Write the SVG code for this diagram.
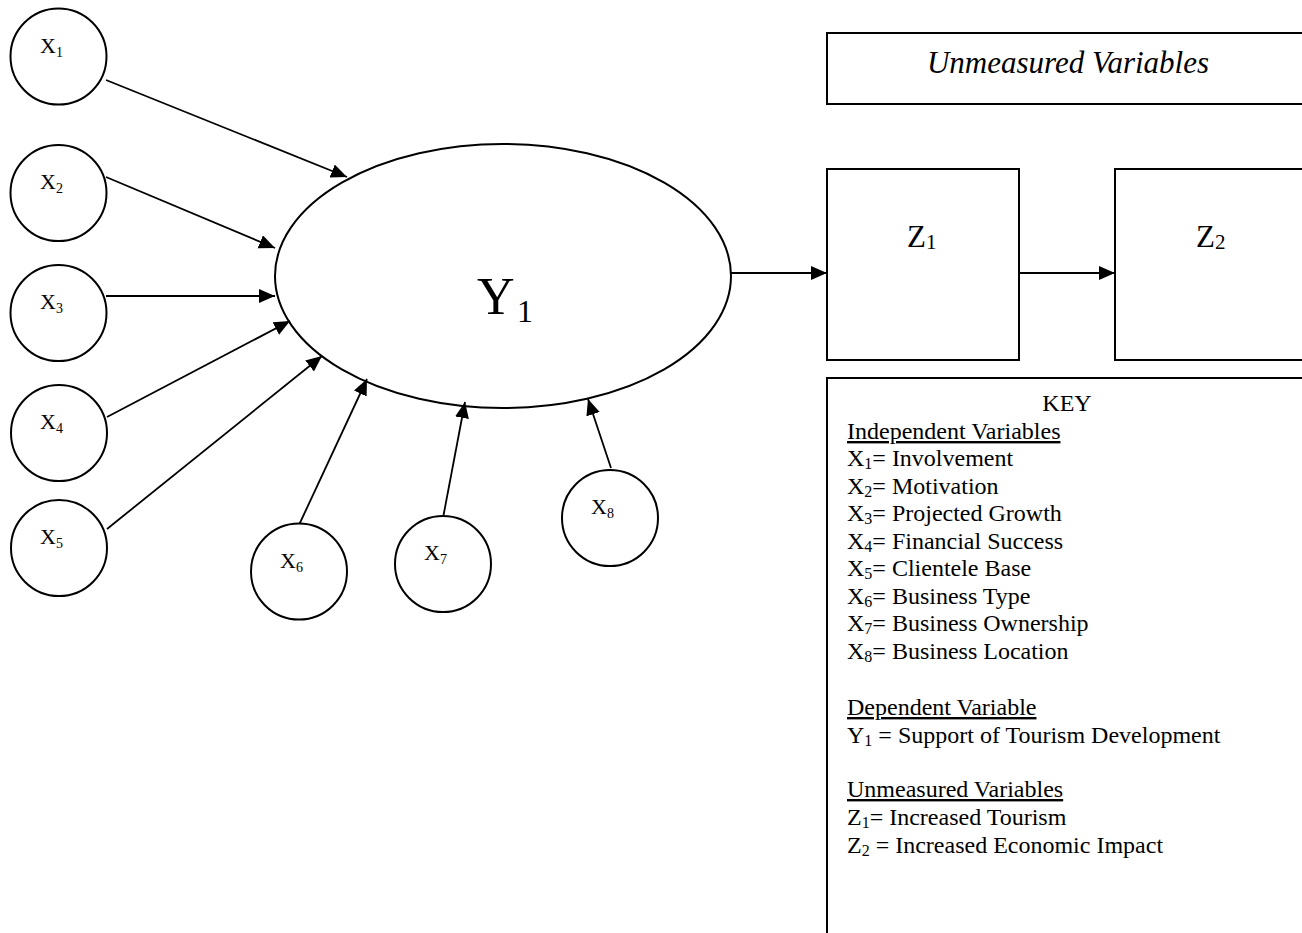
<svg xmlns="http://www.w3.org/2000/svg" width="1302" height="933" viewBox="0 0 1302 933">
<style>
text{font-family:"Liberation Serif","Times New Roman",serif;fill:#000}
.node{fill:#fff;stroke:#000;stroke-width:2}
.lbl{font-size:22px}
.sub{font-size:14px}
.key{font-size:24px}
.ksub{font-size:16px}
.conn line{stroke:#000;stroke-width:1.8;marker-end:url(#arr)}
.u{text-decoration:underline}
</style>
<defs>
<marker id="arr" markerUnits="userSpaceOnUse" markerWidth="17" markerHeight="15" refX="16" refY="7" orient="auto">
<path d="M0,0 L16,7 L0,14 z" fill="#000"/>
</marker>
</defs>
<rect width="1302" height="933" fill="#fff"/>

<g id="conn" class="conn">
<line x1="106" y1="80" x2="347" y2="177"/>
<line x1="106" y1="177" x2="275" y2="248"/>
<line x1="106" y1="296" x2="275" y2="296"/>
<line x1="107" y1="417" x2="290" y2="321"/>
<line x1="107" y1="529" x2="322" y2="356"/>
<line x1="299" y1="525" x2="367" y2="379"/>
<line x1="443" y1="518" x2="465" y2="402"/>
<line x1="611" y1="468" x2="588" y2="399"/>
<line x1="731" y1="273" x2="827" y2="273"/>
<line x1="1019" y1="273" x2="1115" y2="273"/>
</g>

<g id="Y1">
<ellipse class="node" cx="503" cy="276" rx="228" ry="132" style="fill:none"/>
<text x="477" y="314" style="font-size:52px">Y</text>
<text x="517" y="322" style="font-size:32px">1</text>
</g>

<g id="X1"><circle class="node" cx="58.5" cy="56.5" r="48"/><text class="lbl" x="40" y="53">X<tspan class="sub" dy="4">1</tspan></text></g>
<g id="X2"><circle class="node" cx="58.5" cy="193" r="48"/><text class="lbl" x="40" y="189">X<tspan class="sub" dy="4">2</tspan></text></g>
<g id="X3"><circle class="node" cx="58.5" cy="313" r="48"/><text class="lbl" x="40" y="309">X<tspan class="sub" dy="4">3</tspan></text></g>
<g id="X4"><circle class="node" cx="59" cy="433" r="48"/><text class="lbl" x="40" y="429">X<tspan class="sub" dy="4">4</tspan></text></g>
<g id="X5"><circle class="node" cx="59" cy="548" r="48"/><text class="lbl" x="40" y="544">X<tspan class="sub" dy="4">5</tspan></text></g>
<g id="X6"><circle class="node" cx="299" cy="571.5" r="48"/><text class="lbl" x="280" y="568">X<tspan class="sub" dy="4">6</tspan></text></g>
<g id="X7"><circle class="node" cx="443" cy="564" r="48"/><text class="lbl" x="424" y="560">X<tspan class="sub" dy="4">7</tspan></text></g>
<g id="X8"><circle class="node" cx="610" cy="518" r="48"/><text class="lbl" x="591" y="514">X<tspan class="sub" dy="4">8</tspan></text></g>

<g id="unmeasured-title">
<rect class="node" x="827" y="33" width="500" height="71"/>
<text x="1068" y="73" text-anchor="middle" style="font-size:31px;font-style:italic">Unmeasured Variables</text>
</g>

<g id="Z1">
<rect class="node" x="827" y="169" width="192" height="191"/>
<text x="907" y="247" style="font-size:31px">Z<tspan style="font-size:21px" dy="2">1</tspan></text>
</g>
<g id="Z2">
<rect class="node" x="1115" y="169" width="300" height="191"/>
<text x="1196" y="247" style="font-size:31px">Z<tspan style="font-size:21px" dy="2">2</tspan></text>
</g>

<g id="key">
<rect class="node" x="827" y="378" width="500" height="600"/>
<text class="key" x="1067" y="411" text-anchor="middle">KEY</text>
<text class="key u" x="847" y="439">Independent Variables</text>
<text class="key" x="847" y="466">X<tspan class="ksub" dy="3">1</tspan><tspan dy="-3">= Involvement</tspan></text>
<text class="key" x="847" y="494">X<tspan class="ksub" dy="3">2</tspan><tspan dy="-3">= Motivation</tspan></text>
<text class="key" x="847" y="521">X<tspan class="ksub" dy="3">3</tspan><tspan dy="-3">= Projected Growth</tspan></text>
<text class="key" x="847" y="549">X<tspan class="ksub" dy="3">4</tspan><tspan dy="-3">= Financial Success</tspan></text>
<text class="key" x="847" y="576">X<tspan class="ksub" dy="3">5</tspan><tspan dy="-3">= Clientele Base</tspan></text>
<text class="key" x="847" y="604">X<tspan class="ksub" dy="3">6</tspan><tspan dy="-3">= Business Type</tspan></text>
<text class="key" x="847" y="631">X<tspan class="ksub" dy="3">7</tspan><tspan dy="-3">= Business Ownership</tspan></text>
<text class="key" x="847" y="659">X<tspan class="ksub" dy="3">8</tspan><tspan dy="-3">= Business Location</tspan></text>
<text class="key u" x="847" y="715">Dependent Variable</text>
<text class="key" x="847" y="743">Y<tspan class="ksub" dy="3">1</tspan><tspan dy="-3"> = Support of Tourism Development</tspan></text>
<text class="key u" x="847" y="797">Unmeasured Variables</text>
<text class="key" x="847" y="825">Z<tspan class="ksub" dy="3">1</tspan><tspan dy="-3">= Increased Tourism</tspan></text>
<text class="key" x="847" y="853">Z<tspan class="ksub" dy="3">2</tspan><tspan dy="-3"> = Increased Economic Impact</tspan></text>
</g>
</svg>
